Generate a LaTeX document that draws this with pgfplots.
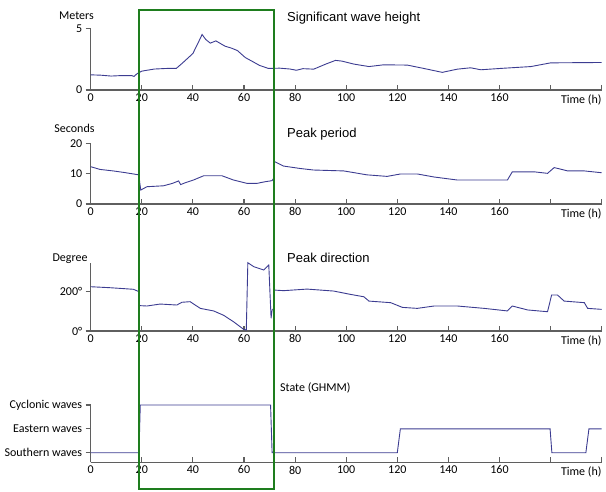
\documentclass[border=0pt]{standalone}
\usepackage{fontspec}
\setmainfont{Carlito}
\newfontfamily\arialf{Liberation Sans}
\usepackage{pgfplots}
\pgfplotsset{compat=1.18}
\definecolor{linec}{RGB}{60,60,145}
\definecolor{axc}{RGB}{95,95,95}
\definecolor{boxc}{RGB}{30,125,30}
\pgfplotsset{panel/.style={
  scale only axis, width=511pt,
  xmin=0, xmax=200,
  axis lines=left,
  axis line style={-, axc, line width=1.2pt},
  every tick/.style={axc, line width=1.1pt},
  major tick length=5pt,
  xtick align=inside, ytick align=outside,
  xtick={0,20,...,200},
  xticklabels={0,20,40,60,80,100,120,140,160,{},{}},
  xlabel={Time (h)},
  xlabel style={at={(rel axis cs:1,0)}, anchor=north east, inner sep=0pt, yshift=-4.5pt},
  tick label style={font=\fontsize{12}{14}\selectfont},
  label style={font=\fontsize{12}{14}\selectfont},
  /pgf/number format/assume math mode=true,
  clip=false,
  anchor=south west,
}}
\begin{document}
\begin{tikzpicture}
\path[use as bounding box] (0,0) rectangle (606pt,-491pt);
% Panel 1
\begin{axis}[panel, at={(90.7pt,-90pt)}, height=61.7pt, ymin=0, ymax=5, ytick={0,5}]
\addplot[linec, line width=0.9pt] coordinates {
(0,1.23) (4,1.2) (8,1.13) (12,1.17) (16,1.17) (17,1.1) (18,1.3) (20,1.53) (22,1.6) (25,1.7) (30,1.75) (33.5,1.75) (36,2.2) (40,2.96) (42,3.8) (43.6,4.5) (45,4.1) (46.8,3.8) (49,3.98) (52.6,3.55) (55,3.4) (57.4,3.2) (60.5,2.63) (63.6,2.28) (66,2.0) (69.5,1.75) (74,1.77) (78,1.7) (80.5,1.6) (83,1.73) (87.3,1.69) (92,2.1) (95.8,2.4) (98.4,2.34) (103,2.1) (108.9,1.9) (114.6,2.04) (123.9,2.02) (130.3,1.75) (137.6,1.43) (143.5,1.69) (148.7,1.8) (152.7,1.64) (160.5,1.75) (172.3,1.9) (180,2.2) (200,2.23)};
\end{axis}
% Panel 2
\begin{axis}[panel, at={(90.7pt,-204pt)}, height=60.7pt, ymin=0, ymax=20, ytick={0,10,20}]
\addplot[linec, line width=0.9pt] coordinates {
(0,12.3) (3.6,11.4) (8.8,10.9) (13,10.4) (16.7,9.9) (18.9,9.6) (19.2,7) (19.6,4.6) (22,5.7) (28.5,6.0) (32,6.8) (34.4,7.6) (35.2,6.4) (37,7.0) (40.2,7.9) (44.2,9.3) (51.4,9.3) (55.9,7.9) (61.2,6.8) (65.1,6.8) (68,7.3) (71,7.7) (71.6,8.5) (71.9,14) (75.5,12.5) (82,11.7) (87.2,11.2) (99,10.9) (108.2,9.6) (116,9.1) (121.3,9.9) (127.8,9.9) (134.4,8.9) (143.5,7.9) (163.1,7.9) (165,10.6) (173.6,10.6) (178.8,10.1) (181.4,12) (186.7,10.9) (193.2,10.9) (200,10.3)};
\end{axis}
% Panel 3
\begin{axis}[panel, at={(90.7pt,-331pt)}, height=67.7pt, ymin=0, ymax=344, ytick={0,200}, yticklabels={0°,200°}]
\addplot[linec, line width=0.9pt] coordinates {
(0,225) (7.6,220) (16.7,212) (18.9,200) (19.1,129) (22,127) (27.2,137) (33.7,132) (35.7,146) (38.9,149) (42.9,115) (48.1,102) (52,80) (55.9,47) (59.8,9) (60.9,5) (61.5,347) (63.8,327) (67.7,310) (69.7,335) (70.6,65) (71,107) (71.5,110) (71.9,208) (75.5,205) (84.7,213) (95.1,203) (101.7,186) (106.9,174) (108.9,152) (117.4,144) (122,120) (127.8,115) (134.4,127) (143.5,127) (154,115) (163.1,102) (165,127) (171,107) (178.8,98) (180.4,183) (182.7,183) (185.3,152) (193.2,144) (194.5,115) (200,110)};
\end{axis}
% Panel 4
\begin{axis}[panel, at={(90.7pt,-462.3pt)}, height=57.3pt, ymin=0.6, ymax=3, ytick={1,2,3}, yticklabels={Southern waves,Eastern waves,Cyclonic waves}]
\addplot[linec, line width=0.9pt] coordinates {
(0,1) (18.9,1) (19.4,3) (70.4,3) (71,1) (120,1) (121.2,2) (179.8,2) (180.5,1) (193.8,1) (195,2) (200,2)};
\end{axis}
% labels and titles
\node[anchor=base, font=\fontsize{12}{14}\selectfont] at (76.5pt,-19pt) {Meters};
\node[anchor=base, font=\fontsize{12}{14}\selectfont] at (74.5pt,-132.5pt) {Seconds};
\node[anchor=base, font=\fontsize{12}{14}\selectfont] at (70pt,-261pt) {Degree};
\node[anchor=base west, inner sep=0pt, font=\arialf\fontsize{13}{15}\selectfont] at (287pt,-21.5pt) {Significant wave height};
\node[anchor=base west, inner sep=0pt, font=\arialf\fontsize{13}{15}\selectfont] at (287pt,-137pt) {Peak period};
\node[anchor=base west, inner sep=0pt, font=\arialf\fontsize{13}{15}\selectfont] at (287pt,-262.5pt) {Peak direction};
\node[anchor=base west, inner sep=0pt, font=\fontsize{12}{14}\selectfont] at (280pt,-391pt) {State (GHMM)};
% highlight box
\draw[boxc, line width=2pt] (139pt,-10pt) rectangle (274pt,-489pt);
\end{tikzpicture}
\end{document}
